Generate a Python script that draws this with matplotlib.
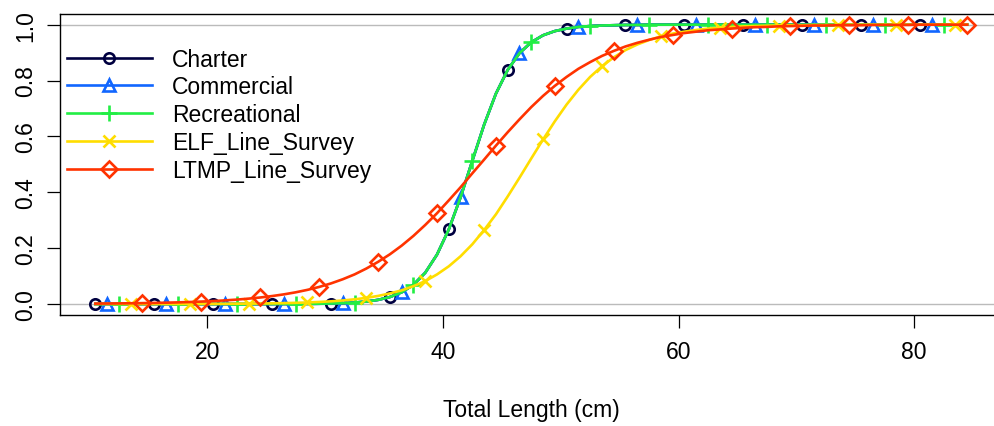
import numpy as np
import matplotlib
matplotlib.use("Agg")
import matplotlib.pyplot as plt
from matplotlib.lines import Line2D

plt.rcParams['font.family'] = ['Liberation Sans', 'DejaVu Sans']

# length bins (cm)
lengths = np.arange(10.5, 85.0, 1.0)

charter = [0.0]*15 + [0.0001, 0.0002, 0.0004, 0.0006, 0.0011, 0.0018, 0.0031, 0.0052,
           0.0088, 0.0149, 0.025, 0.042, 0.069, 0.112, 0.177, 0.267, 0.382, 0.513,
           0.642, 0.753, 0.838, 0.898, 0.937, 0.962, 0.977, 0.986, 0.992, 0.995,
           0.997, 0.998, 0.999, 0.999] + [1.0]*28
commercial = list(charter)
recreational = list(charter)
elf_line_survey = [0.0, 0.0001, 0.0001, 0.0001, 0.0001, 0.0002, 0.0002, 0.0003, 0.0004,
                   0.0005, 0.0006, 0.0008, 0.0011, 0.0014, 0.0019, 0.0025, 0.0032, 0.0043,
                   0.0056, 0.0074, 0.0097, 0.0127, 0.0168, 0.0221, 0.029, 0.038, 0.049,
                   0.064, 0.082, 0.106, 0.135, 0.171, 0.214, 0.265, 0.321, 0.385, 0.452,
                   0.521, 0.589, 0.654, 0.714, 0.767, 0.813, 0.851, 0.883, 0.909, 0.929,
                   0.945, 0.958, 0.968, 0.975, 0.981, 0.986, 0.989, 0.992, 0.994, 0.995,
                   0.996, 0.997, 0.998, 0.998, 0.999, 0.999, 0.999] + [1.0]*11
ltmp_line_survey = [0.0015, 0.0018, 0.0022, 0.0027, 0.0032, 0.0040, 0.0048, 0.0059, 0.0072,
                    0.0088, 0.0107, 0.0130, 0.0158, 0.0193, 0.0234, 0.0285, 0.0346, 0.0419,
                    0.0507, 0.0612, 0.0738, 0.0887, 0.106, 0.127, 0.151, 0.178, 0.209,
                    0.244, 0.283, 0.325, 0.371, 0.418, 0.468, 0.517, 0.567, 0.615, 0.661,
                    0.705, 0.745, 0.781, 0.813, 0.842, 0.866, 0.888, 0.906, 0.922, 0.935,
                    0.946, 0.956, 0.963, 0.970, 0.975, 0.980, 0.983, 0.986, 0.989, 0.991,
                    0.992, 0.994, 0.995, 0.996, 0.997, 0.997, 0.998, 0.998, 0.998, 0.999,
                    0.999, 0.999, 0.999, 1.0, 1.0, 1.0, 1.0, 1.0]

series_names = ["Charter", "Commercial", "Recreational", "ELF_Line_Survey", "LTMP_Line_Survey"]
series_values = [charter, commercial, recreational, elf_line_survey, ltmp_line_survey]
colors = ["#000040", "#1166FF", "#22EE44", "#FFDD00", "#FF3300"]
markers = ["o", "^", "+", "x", "D"]
msizes = [7.5, 9, 11, 9, 8]

FS = 16.5
W, H = 995, 427
fig = plt.figure(figsize=(W/100, H/100), dpi=100)
left_px, right_px, top_px, bot_px = 60.5, 1002, 14.5, 316.2
ax = fig.add_axes([left_px/W, 1 - bot_px/H, (right_px-left_px)/W, (bot_px-top_px)/H])

ax.axhline(0, color="#BBBBBB", lw=1.0, zorder=1)
ax.axhline(1, color="#BBBBBB", lw=1.0, zorder=1)

handles = []
for k, (name, vals, c, m, ms) in enumerate(zip(series_names, series_values, colors, markers, msizes)):
    ax.plot(lengths, vals, color=c, lw=1.9, marker=m, ms=ms, mew=1.9,
            mfc="none", mec=c, markevery=slice(k, None, 5), zorder=2 + k)
    handles.append(Line2D([], [], color=c, lw=1.9, marker=m, ms=ms, mew=1.9, mfc="none", mec=c))

ax.set_xlim(7.54, 87.46)
ax.set_ylim(-0.04, 1.04)
ax.set_xticks([20, 40, 60, 80])
ax.set_yticks([0.0, 0.2, 0.4, 0.6, 0.8, 1.0])
ax.set_yticklabels(["0.0", "0.2", "0.4", "0.6", "0.8", "1.0"], rotation=90, va="center")
ax.tick_params(axis="both", direction="out", length=9.5, width=0.9, labelsize=FS)
ax.tick_params(axis="x", pad=8.5)
ax.tick_params(axis="y", pad=7)
for s in ax.spines.values():
    s.set_linewidth(1.0)
ax.set_xlabel("Total Length (cm)", fontsize=FS, labelpad=25)

leg = ax.legend(handles, series_names, loc="upper left", bbox_to_anchor=(0.0069, 0.887),
                frameon=False, fontsize=FS, handlelength=3.7, handletextpad=0.87,
                labelspacing=0.21, borderaxespad=0.0, borderpad=0.0)

fig.savefig("out.png", dpi=100)
